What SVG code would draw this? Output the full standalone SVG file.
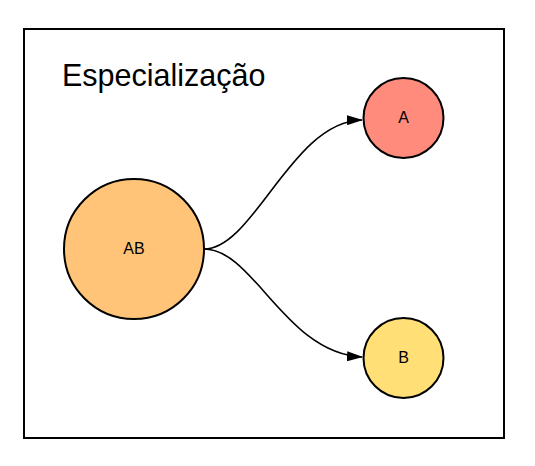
<svg xmlns="http://www.w3.org/2000/svg" width="535" height="466" viewBox="0 0 535 466">
<defs>
<style>
.node{stroke:#000;stroke-width:2}
.lbl{font-family:"Liberation Sans",Arial,sans-serif;font-size:16px;text-anchor:middle;dominant-baseline:central;fill:#000}
.edge{fill:none;stroke:#000;stroke-width:1.6}
</style>
<marker id="arr" viewBox="0 0 16 10" refX="15" refY="5" markerWidth="16" markerHeight="10" markerUnits="userSpaceOnUse" orient="auto">
<path d="M0,0 L16,5 L0,10 z" fill="#000"/>
</marker>
</defs>
<rect width="535" height="466" fill="#fff"/>
<rect x="24" y="29" width="480" height="409" fill="#fff" stroke="#000" stroke-width="2"/>
<text x="62" y="86" font-family="Liberation Sans,Arial,sans-serif" font-size="30.5" fill="#000">Especialização</text>
<g id="connectors">
<path class="edge" d="M204,249 C254,249 292,121 362,120" marker-end="url(#arr)"/>
<path class="edge" d="M204,249 C254,249 285,353 362,357" marker-end="url(#arr)"/>
</g>
<g id="node-AB">
<circle class="node" cx="134" cy="249" r="70" fill="#ffc477"/>
<text class="lbl" x="134" y="248">AB</text>
</g>
<g id="node-A">
<circle class="node" cx="403.5" cy="118" r="40" fill="#ff8b7d"/>
<text class="lbl" x="403.5" y="117">A</text>
</g>
<g id="node-B">
<circle class="node" cx="403.5" cy="358" r="40" fill="#ffdf76"/>
<text class="lbl" x="403.5" y="357">B</text>
</g>
</svg>
